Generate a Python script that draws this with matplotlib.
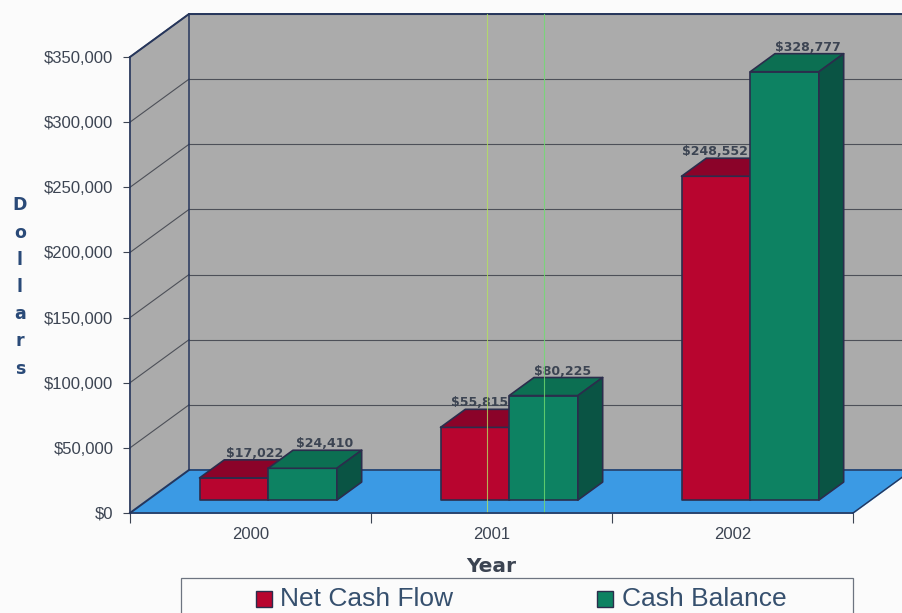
import matplotlib
matplotlib.use('Agg')
from matplotlib import pyplot as plt
from matplotlib.patches import Polygon, Rectangle

years = ['2000', '2001', '2002']
net_cash_flow = [17022, 55815, 248552]
cash_balance = [24410, 80225, 328777]
net_labels = ['$17,022', '$55,815', '$248,552']
balance_labels = ['$24,410', '$80,225', '$328,777']
y_ticks = [0, 50000, 100000, 150000, 200000, 250000, 300000, 350000]

W, H = 902, 613
TEXT = '#3c4452'
NAVY = '#26365c'
EDGE = '#2b2d4c'
WALL = '#ababab'
FLOOR = '#3b9ae4'
RED = ('#b8052f', '#8b0329', '#6e0322')
GREEN = ('#0d8262', '#0c6f52', '#0a5444')

# depth of the chart box in data units
DX = 59 / 241
DY = 43 / 65.14 * 50000
BAR_W = 0.285
BAR_NEAR = 0.30
BAR_FAR = 0.72

plt.rcParams['font.family'] = ['Liberation Sans', 'DejaVu Sans']

fig = plt.figure(figsize=(W / 100, H / 100), dpi=100, facecolor='#fbfbfb')
ax = fig.add_axes([130 / W, (H - 513) / H, 723 / W, 456 / H])
ax.set_xlim(-0.5, 2.5)
ax.set_ylim(0, 350000)
ax.patch.set_alpha(0)


def proj(x, v, depth):
    return (x + depth * DX, v + depth * DY)


def poly(points, color, z, edge=None, lw=1.2):
    ax.add_patch(Polygon(points, closed=True, facecolor=color, clip_on=False,
                         edgecolor=edge if edge else color, linewidth=lw,
                         zorder=z, joinstyle='round'))


x0, x1 = -0.5, 2.5
top = y_ticks[-1]

# walls and floor
poly([proj(x0, 0, 0), proj(x0, top, 0), proj(x0, top, 1), proj(x0, 0, 1)], WALL, 1)
poly([proj(x0, 0, 1), proj(x0, top, 1), proj(x1, top, 1), proj(x1, 0, 1)], WALL, 1)
poly([proj(x0, 0, 0), proj(x1, 0, 0), proj(x1, 0, 1), proj(x0, 0, 1)], FLOOR, 1.5)

for v in y_ticks[1:]:
    ax.plot(*zip(proj(x0, v, 0), proj(x0, v, 1)), color='#4d5058', lw=0.8,
            clip_on=False, zorder=2)
    ax.plot(*zip(proj(x0, v, 1), proj(x1, v, 1)), color='#4d5058', lw=0.8,
            clip_on=False, zorder=2)

# box outline
ax.plot(*zip(proj(x0, top, 0), proj(x0, top, 1), proj(x1, top, 1)), color=NAVY,
        lw=1.4, clip_on=False, zorder=3)
ax.plot(*zip(proj(x0, top, 1), proj(x0, 0, 1), proj(x1, 0, 1)), color=NAVY,
        lw=1.1, clip_on=False, zorder=3)
ax.plot(*zip(proj(x0, 0, 0), proj(x0, 0, 1)), color=NAVY, lw=1.4,
        clip_on=False, zorder=3)
ax.plot(*zip(proj(x1, 0, 0), proj(x1, 0, 1)), color=NAVY, lw=1.0,
        clip_on=False, zorder=3)


def bar3d(left, value, colors, z):
    right = left + BAR_W
    poly([proj(left, 0, BAR_NEAR), proj(right, 0, BAR_NEAR),
          proj(right, value, BAR_NEAR), proj(left, value, BAR_NEAR)],
         colors[0], z, EDGE)
    poly([proj(left, value, BAR_NEAR), proj(right, value, BAR_NEAR),
          proj(right, value, BAR_FAR), proj(left, value, BAR_FAR)],
         colors[1], z, EDGE)
    poly([proj(right, 0, BAR_NEAR), proj(right, 0, BAR_FAR),
          proj(right, value, BAR_FAR), proj(right, value, BAR_NEAR)],
         colors[2], z, EDGE)


# label shift from the bar's front centre, in category units
net_shift = [0.161, 0.095, 0.070]
bal_shift = [0.166, 0.152, 0.170]

for i, year in enumerate(years):
    bar_x = i - BAR_W
    ax.text(bar_x + BAR_W / 2 + net_shift[i], net_cash_flow[i] + BAR_FAR * DY,
            net_labels[i], ha='center', va='bottom', fontsize=9,
            family='DejaVu Sans', weight='bold', color=TEXT, zorder=4, clip_on=False)
    bar3d(bar_x, net_cash_flow[i], RED, 5)
    bar3d(i, cash_balance[i], GREEN, 6)
    ax.text(i + BAR_W / 2 + bal_shift[i], cash_balance[i] + BAR_FAR * DY,
            balance_labels[i], ha='center', va='bottom', fontsize=9,
            family='DejaVu Sans', weight='bold', color=TEXT, zorder=7, clip_on=False)

# thin scanner streaks across 2001
ax.plot([0.981, 0.981], [0, top + DY], color='#b4e060', lw=0.8, alpha=0.8, zorder=8,
        clip_on=False)
ax.plot([1.218, 1.218], [0, top + DY], color='#70dc70', lw=0.8, alpha=0.8, zorder=8,
        clip_on=False)

# axes
for side in ['top', 'right']:
    ax.spines[side].set_visible(False)
for side in ['left', 'bottom']:
    ax.spines[side].set_color(NAVY)
    ax.spines[side].set_linewidth(1.2)
    ax.spines[side].set_zorder(9)

ax.set_yticks(y_ticks)
ax.set_yticklabels(['${:,}'.format(v) for v in y_ticks], fontsize=12, color=TEXT)
ax.set_xticks([-0.5, 0.5, 1.5, 2.5])
ax.set_xticklabels([])
ax.set_xticks([0, 1, 2], minor=True)
ax.set_xticklabels(years, minor=True, fontsize=12, color=TEXT)
ax.tick_params(axis='x', which='major', length=7, color=TEXT, width=0.8)
ax.tick_params(axis='x', which='minor', length=0, pad=10)
ax.tick_params(axis='y', length=5, color=TEXT, width=0.8, pad=7)

# axis titles
fig.text(20 / W, 1 - 287 / H, 'D\no\nl\nl\na\nr\ns', ha='center', va='center',
         fontsize=12.5, family='DejaVu Sans', weight='bold', color='#2a4a78',
         linespacing=1.66)
fig.text(491 / W, 1 - 566 / H, 'Year', ha='center', va='center', fontsize=14.5,
         family='DejaVu Sans', weight='bold', color=TEXT)

# legend box runs off the bottom of the page
fig.add_artist(Rectangle((181 / W, -0.02), 672 / W, (H - 578) / H + 0.02,
                         transform=fig.transFigure, facecolor='#fbfbfb',
                         edgecolor='#6d7480', linewidth=0.9))
legend_items = [('Net Cash Flow', RED[0], 256, 280), ('Cash Balance', GREEN[0], 597, 622)]
for name, color, box_x, text_x in legend_items:
    fig.add_artist(Rectangle((box_x / W, 1 - 607 / H), 16 / W, 16 / H,
                             transform=fig.transFigure, facecolor=color,
                             edgecolor=EDGE, linewidth=1))
    fig.text(text_x / W, 1 - 599 / H, name, ha='left', va='center', fontsize=19,
             color='#36506e')

fig.savefig('out.png', dpi=100, facecolor=fig.get_facecolor())
